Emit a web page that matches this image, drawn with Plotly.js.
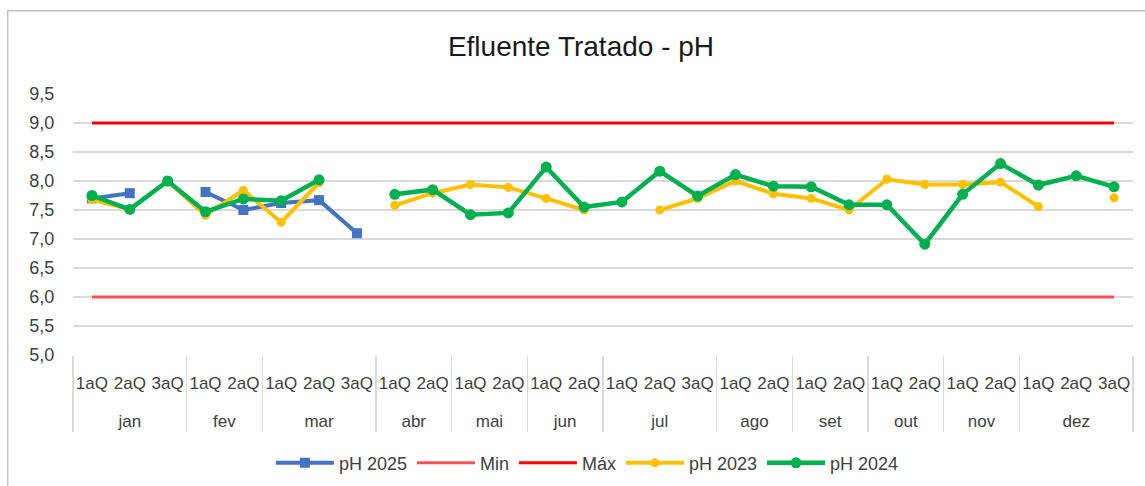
<!DOCTYPE html>
<html>
<head>
<meta charset="utf-8">
<script src="https://cdn.plot.ly/plotly-3.0.1.min.js"></script>
<style>
  html, body { margin: 0; padding: 0; background: #ffffff; }
  #chart { width: 1145px; height: 486px; }
</style>
</head>
<body>
<div id="chart"></div>
<script>
const meses = ['jan','jan','jan','fev','fev','mar','mar','mar','abr','abr','mai','mai','jun','jun','jul','jul','jul','ago','ago','set','set','out','out','nov','nov','dez','dez','dez'];
const quinzenas = ['1aQ','2aQ','3aQ','1aQ','2aQ','1aQ','2aQ','3aQ','1aQ','2aQ','1aQ','2aQ','1aQ','2aQ','1aQ','2aQ','3aQ','1aQ','2aQ','1aQ','2aQ','1aQ','2aQ','1aQ','2aQ','1aQ','2aQ','3aQ'];

const ph2025 = [7.70,7.79,null,7.81,7.50,7.62,7.67,7.10,null,null,null,null,null,null,null,null,null,null,null,null,null,null,null,null,null,null,null,null];
const phMin  = [6.0,6.0,6.0,6.0,6.0,6.0,6.0,6.0,6.0,6.0,6.0,6.0,6.0,6.0,6.0,6.0,6.0,6.0,6.0,6.0,6.0,6.0,6.0,6.0,6.0,6.0,6.0,6.0];
const phMax  = [9.0,9.0,9.0,9.0,9.0,9.0,9.0,9.0,9.0,9.0,9.0,9.0,9.0,9.0,9.0,9.0,9.0,9.0,9.0,9.0,9.0,9.0,9.0,9.0,9.0,9.0,9.0,9.0];
const ph2023 = [7.68,7.51,8.00,7.41,7.84,7.29,7.97,null,7.58,7.79,7.94,7.89,7.70,7.50,null,7.50,7.70,8.00,7.78,7.70,7.50,8.03,7.94,7.94,7.98,7.56,null,7.71];
const ph2024 = [7.75,7.51,8.00,7.47,7.69,7.66,8.02,null,7.77,7.85,7.42,7.45,8.24,7.55,7.64,8.17,7.74,8.11,7.91,7.90,7.59,7.59,6.91,7.77,8.30,7.93,8.09,7.90];

const yTicks = [5.0,5.5,6.0,6.5,7.0,7.5,8.0,8.5,9.0,9.5];

const FONT = 'Liberation Sans, Arial, sans-serif';
// labels drawn at 17px inside a larger axis font, with an empty extra line under the first level,
// so that the month row sits as low as in the reference
const wrap = s => '<span style="font-size:17px">' + s + '</span>';
const xcat = [meses.map(wrap), quinzenas.map(q => wrap(q) + '<br> ')];

const traces = [
  {name:'pH 2025', legendgroup:'g1', x:xcat, y:ph2025, type:'scatter', mode:'lines+markers',
   line:{color:'#4472C4', width:4}, marker:{symbol:'square', size:10, color:'#4472C4'}},
  {name:'Min', legendgroup:'g2', x:xcat, y:phMin, type:'scatter', mode:'lines',
   line:{color:'#FF5050', width:3}},
  {name:'Máx', legendgroup:'g3', x:xcat, y:phMax, type:'scatter', mode:'lines',
   line:{color:'#FF0000', width:3}},
  {name:'pH 2023', legendgroup:'g4', x:xcat, y:ph2023, type:'scatter', mode:'lines+markers',
   line:{color:'#FFC000', width:4}, marker:{symbol:'circle', size:9, color:'#FFC000'}},
  {name:'pH 2024', legendgroup:'g5', x:xcat, y:ph2024, type:'scatter', mode:'lines+markers',
   line:{color:'#00B050', width:4.5}, marker:{symbol:'circle', size:11, color:'#00B050'}}
];

const layout = {
  width:1145, height:486,
  margin:{l:73, r:12, t:94, b:131},
  paper_bgcolor:'#ffffff', plot_bgcolor:'#ffffff',
  separators:',.',
  font:{family:FONT, size:17, color:'#404040'},
  title:{text:'Efluente Tratado - pH', font:{family:FONT, size:28, color:'#1a1a1a'},
         x:0.5074, xanchor:'center', y:0.905, yanchor:'middle'},
  showlegend:true,
  legend:{orientation:'h', x:0.513, xanchor:'center', xref:'container', yref:'container', y:0.047, yanchor:'middle',
          font:{family:FONT, size:18, color:'#404040'}, traceorder:'grouped', itemwidth:58, tracegroupgap:38},
  xaxis:{type:'multicategory', range:[-0.5, 27.5], autorange:false, showgrid:false, zeroline:false, showline:false,
         tickangle:0, tickfont:{family:FONT, size:21.5, color:'#404040'}, ticklabelstandoff:11,
         showdividers:true, dividercolor:'#d9d9d9', dividerwidth:1.5, ticks:''},
  yaxis:{range:[5.0, 9.5], tickvals:yTicks, tickformat:'.1f', showgrid:true, gridcolor:'#d9d9d9', gridwidth:1.5,
         zeroline:false, showline:false, ticks:'outside', ticklen:14, tickcolor:'rgba(0,0,0,0)',
         tickfont:{family:FONT, size:18, color:'#404040'}},
  shapes:[{type:'rect', xref:'paper', yref:'paper', x0:-0.0616, x1:1.02, y0:-0.6, y1:1.319,
           line:{color:'#bfbfbf', width:1.5}, fillcolor:'rgba(0,0,0,0)', layer:'below'}]
};

Plotly.newPlot('chart', traces, layout, {displayModeBar:false, staticPlot:true});
</script>
</body>
</html>
